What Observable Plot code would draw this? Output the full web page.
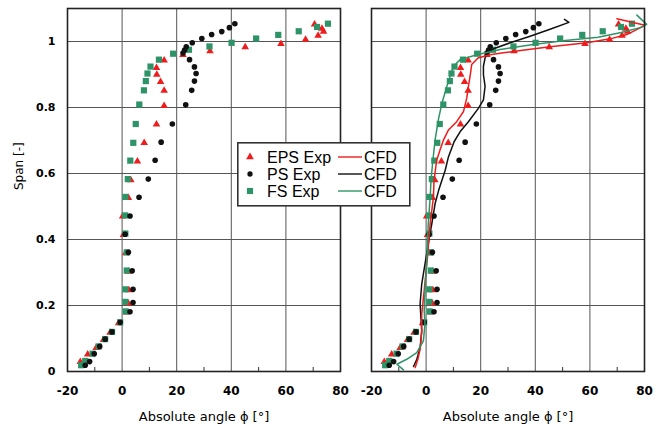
<!DOCTYPE html>
<html><head><meta charset="utf-8">
<script src="https://cdn.jsdelivr.net/npm/d3@7"></script>
<script src="https://cdn.jsdelivr.net/npm/@observablehq/plot@0.6"></script>
<style>
body{margin:0;background:#fff;}
#wrap{position:relative;width:665px;height:429px;overflow:hidden;}
#charts{display:flex;}
#legend{position:absolute;left:237px;top:142px;}
</style></head><body>
<div id="wrap"><div id="charts"></div><div id="legend"></div></div>
<script>
// ---- tick labels / grid ----
const xTicks = [-20, 0, 20, 40, 60, 80];
const xMinor = [-10, 10, 30, 50, 70];
const xGrid = [0, 20, 40, 60];
const yTicks = [0, 0.2, 0.4, 0.6, 0.8, 1];
const yGrid = [0.2, 0.4, 0.6, 0.8, 1];
const xLabel = "Absolute angle ϕ [°]";
const yLabel = "Span [-]";
const seriesNames = ["EPS Exp", "PS Exp", "FS Exp"];
const cfdName = "CFD";

// ---- experimental data (span, phi) ----
const epsSpan = [1.052,1.039,1.030,1.018,1.006,0.993,0.983,0.971,0.960,0.943,0.920,0.900,0.878,0.851,0.805,0.749,0.693,0.637,0.580,0.526,0.470,0.414,0.359,0.303,0.247,0.206,0.179,0.147,0.118,0.096,0.072,0.052,0.029];
const epsPhi  = [70.5,73.2,73.8,71.8,67.2,58.2,45.1,32.2,22.3,15.4,12.6,12.7,14.1,15.4,15.4,12.6,8.1,5.6,3.2,2.3,0.2,0.5,1.3,2.3,2.5,2.3,1.7,-1.3,-4.4,-6.8,-9.5,-12.6,-15.3];

const psSpan = [1.054,1.042,1.030,1.021,1.009,0.996,0.984,0.974,0.965,0.945,0.923,0.903,0.880,0.852,0.808,0.750,0.695,0.640,0.583,0.528,0.471,0.416,0.361,0.305,0.249,0.209,0.181,0.149,0.120,0.098,0.076,0.054,0.030,0.019];
const psPhi  = [41.3,39.3,36.5,32.8,29.2,25.7,23.5,22.9,22.3,24.7,26.5,27.1,26.5,25.5,23.3,18.4,14.3,12.1,9.6,6.2,2.9,1.1,2.3,3.7,4.0,4.0,2.9,-0.7,-3.7,-6.2,-8.2,-10.2,-11.9,-13.5];

const fsSpan = [1.054,1.044,1.031,1.020,1.009,0.996,0.985,0.975,0.963,0.945,0.924,0.903,0.880,0.852,0.809,0.750,0.693,0.639,0.583,0.529,0.473,0.418,0.361,0.306,0.249,0.211,0.182,0.149,0.120,0.098,0.076,0.054,0.032,0.019];
const fsPhi  = [75.4,71.4,64.7,57.2,49.1,40.1,32.0,24.5,18.7,13.5,10.4,9.3,8.7,8.0,6.3,5.0,4.1,3.0,2.1,1.2,1.1,1.2,1.7,1.7,1.2,1.2,1.3,-0.7,-3.7,-6.2,-8.6,-10.8,-13.5,-15.0];

// ---- CFD curves (right panel) ----
const cfdEpsSpan = [1.069,1.049,1.021,1.008,0.996,0.984,0.971,0.966,0.960,0.950,0.930,0.894,0.864,0.829,0.788,0.757,0.732,0.702,0.671,0.641,0.580,0.529,0.449,0.346,0.245,0.174,0.123,0.072,0.037,0.012];
const cfdEpsPhi  = [69.9,80.2,73.5,67.4,58.9,45.4,33.2,28.3,23.4,19.0,16.7,16.1,15.5,14.9,13.7,11.2,8.2,6.4,5.1,3.9,2.9,2.7,1.5,0.5,-0.7,-1.6,-1.6,-2.1,-3.0,-4.0];

const cfdPsSpan = [1.067,1.058,1.037,1.016,0.996,0.978,0.966,0.950,0.925,0.900,0.864,0.823,0.798,0.757,0.727,0.697,0.651,0.610,0.549,0.509,0.448,0.387,0.326,0.265,0.205,0.164,0.123,0.072,0.037,0.015];
const cfdPsPhi  = [50.7,52.3,45.4,38.1,30.8,24.7,22.5,21.6,21.0,21.0,21.6,21.0,19.2,15.5,12.5,10.3,8.2,7.0,4.6,3.3,2.1,0.8,-0.4,-1.6,-2.2,-1.9,-1.6,-2.2,-3.4,-4.6];

const cfdFsSpan = [1.080,1.052,1.042,1.027,1.013,1.003,0.991,0.976,0.960,0.945,0.925,0.894,0.864,0.813,0.763,0.702,0.641,0.580,0.529,0.448,0.346,0.245,0.184,0.144,0.093,0.057,0.037,0.022,0.005];
const cfdFsPhi  = [77.2,80.8,78.4,71.5,63.0,51.0,39.3,27.1,18.6,12.5,10.0,8.8,7.6,5.8,4.5,3.3,2.5,1.8,1.5,0.8,0.3,-0.4,-0.7,-0.4,-1.0,-3.4,-7.1,-10.7,-8.3];

const red = "#ee1c1c", black = "#111", green = "#2e9467";
const zip = (s, p) => s.map((v, i) => ({span: v, phi: p[i]}));
const eps = zip(epsSpan, epsPhi), ps = zip(psSpan, psPhi), fs = zip(fsSpan, fsPhi);
const cEps = zip(cfdEpsSpan, cfdEpsPhi), cPs = zip(cfdPsSpan, cfdPsPhi), cFs = zip(cfdFsSpan, cfdFsPhi);

function panel(left, withCFD, width, ml, mr) {
  const marks = [
    Plot.gridX({ticks: xGrid, stroke: "#555", strokeOpacity: 1, strokeWidth: 1}),
    Plot.gridY({ticks: yGrid, stroke: "#555", strokeOpacity: 1, strokeWidth: 1}),
    Plot.axisX({ticks: xTicks, tickSize: 0, tickPadding: 15, fontWeight: "bold", fontSize: 12,
      tickFormat: d => String(d), label: null}),
    Plot.axisX({ticks: xMinor, tickSize: 4, dy: -4, tickFormat: () => "", label: null, stroke: "#333"}),
    Plot.text([xLabel], {text: d => d, frameAnchor: "bottom", dy: 49, fontSize: 13})
  ];
  if (left) {
    marks.push(Plot.axisY({ticks: yTicks, tickSize: 0, tickPadding: 12, fontWeight: "bold", fontSize: 11,
      tickFormat: d => (d === 0 || d === 1) ? String(d) : d.toFixed(1), label: null}));
    marks.push(Plot.text([yLabel], {text: d => d, frameAnchor: "left", dx: -48, rotate: -90, fontSize: 12}));
  }
  marks.push(
    Plot.dot(eps, {x: "phi", y: "span", symbol: "triangle", r: 2.8, fill: red}),
    Plot.dot(fs, {x: "phi", y: "span", symbol: "square", r: 3.5, fill: green}),
    Plot.dot(ps, {x: "phi", y: "span", symbol: "circle", r: 2.8, fill: black})
  );
  if (withCFD) {
    marks.push(
      Plot.line(cPs, {x: "phi", y: "span", stroke: black, strokeWidth: 1.5}),
      Plot.line(cEps, {x: "phi", y: "span", stroke: red, strokeWidth: 1.5}),
      Plot.line(cFs, {x: "phi", y: "span", stroke: green, strokeWidth: 1.5})
    );
  }
  marks.push(Plot.frame({stroke: "#222", strokeWidth: 1.6}));
  return Plot.plot({
    width, height: 429,
    marginLeft: ml, marginRight: mr, marginTop: 8, marginBottom: 58,
    x: {domain: [-20, 80], axis: null},
    y: {domain: [0, 1.1], axis: null},
    style: {fontFamily: "DejaVu Sans", background: "transparent", overflow: "visible"},
    marks
  });
}

const charts = document.getElementById("charts");
charts.appendChild(panel(true, false, 355, 67, 15));
charts.appendChild(panel(false, true, 310, 16, 21));

// ---- legend ----
const lg = d3.select("#legend").append("svg").attr("width", 174).attr("height", 65)
  .style("font-family", "'Liberation Sans', Arial, sans-serif").style("font-size", "16px");
lg.append("rect").attr("x", 0.8).attr("y", 0.8).attr("width", 172).attr("height", 63)
  .attr("fill", "#fff").attr("stroke", "#333").attr("stroke-width", 1.6);
const cols = [red, black, green];
const syms = [d3.symbolTriangle, d3.symbolCircle, d3.symbolSquare];
const sizes = [26, 22, 38];
seriesNames.forEach((name, i) => {
  const cy = 15 + i * 17;
  lg.append("path").attr("d", d3.symbol(syms[i], sizes[i])()).attr("transform", `translate(13,${cy})`).attr("fill", cols[i]);
  lg.append("text").attr("x", 30).attr("y", cy).attr("dy", "0.36em").text(name);
  lg.append("line").attr("x1", 101).attr("x2", 125).attr("y1", cy).attr("y2", cy).attr("stroke", cols[i]).attr("stroke-width", 1.4);
  lg.append("text").attr("x", 127).attr("y", cy).attr("dy", "0.36em").text(cfdName);
});
</script>
</body></html>
